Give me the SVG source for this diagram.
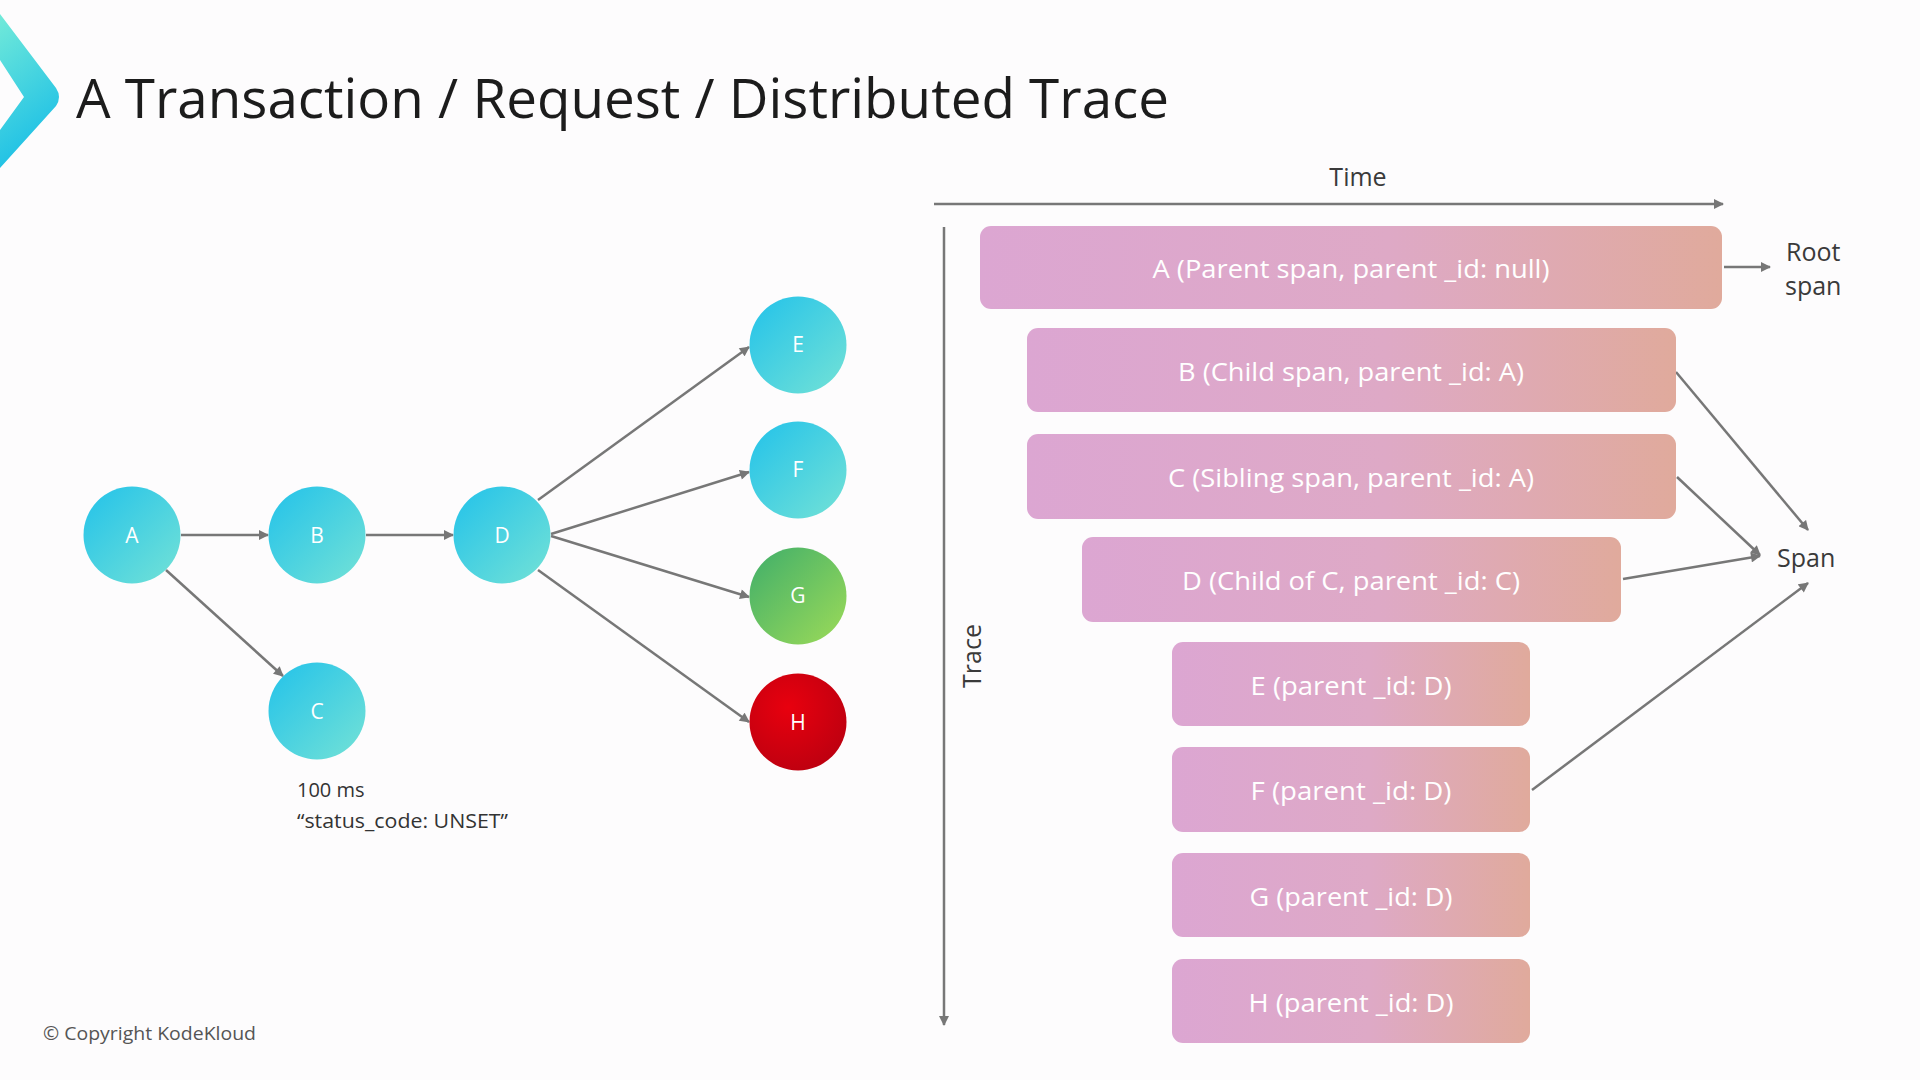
<svg xmlns="http://www.w3.org/2000/svg" width="1920" height="1080" viewBox="0 0 1920 1080">
<defs>
<style>
.title{font-family:"Open Sans","Liberation Sans",sans-serif;font-size:54px;fill:#1c1c1c}
.nlabel{font-family:"Open Sans","Liberation Sans",sans-serif;font-size:21px;fill:#ffffff;text-anchor:middle}
.blabel{font-family:"Open Sans","Liberation Sans",sans-serif;font-size:25px;fill:#ffffff;text-anchor:middle}
.axis{font-family:"Open Sans","Liberation Sans",sans-serif;font-size:25px;fill:#3a3a3a}
.note{font-family:"Open Sans","Liberation Sans",sans-serif;font-size:20px;fill:#333333}
.copy{font-family:"Open Sans","Liberation Sans",sans-serif;font-size:19px;fill:#555555}
.edge{stroke:#777777;stroke-width:2.5;fill:none;marker-end:url(#arr)}
.axisline{stroke:#777777;stroke-width:2.5;fill:none;marker-end:url(#arr)}
.bar{fill:url(#barGrad)}
</style>
<marker id="arr" viewBox="0 0 10 10" refX="9" refY="5" markerWidth="11" markerHeight="10" markerUnits="userSpaceOnUse" orient="auto">
<path d="M0,0 L10,5 L0,10 z" fill="#777777"/>
</marker>
<linearGradient id="logoGrad" x1="0" y1="0" x2="0.3" y2="1">
<stop offset="0" stop-color="#72ead9"/>
<stop offset="1" stop-color="#1cbfe6"/>
</linearGradient>
<linearGradient id="cyanGrad" x1="0" y1="0" x2="1" y2="1">
<stop offset="0" stop-color="#22c2ea"/>
<stop offset="1" stop-color="#74e2d6"/>
</linearGradient>
<linearGradient id="greenGrad" x1="0" y1="0" x2="1" y2="1">
<stop offset="0" stop-color="#3fae6a"/>
<stop offset="1" stop-color="#9ddb58"/>
</linearGradient>
<radialGradient id="redGrad" cx="0.4" cy="0.35" r="0.7">
<stop offset="0" stop-color="#e8000e"/>
<stop offset="1" stop-color="#bd0010"/>
</radialGradient>
<linearGradient id="barGrad" x1="0" y1="0" x2="1" y2="0">
<stop offset="0" stop-color="#dca6d2"/>
<stop offset="0.55" stop-color="#dea9c6"/>
<stop offset="1" stop-color="#e0aa9c"/>
</linearGradient>
</defs>
<rect x="0" y="0" width="1920" height="1080" fill="#fdfcfd"/>

<g id="logo">
<path d="M0,14 L56,88 Q62,97 56,106 L0,168 L0,130 L24,97 L0,60 Z" fill="url(#logoGrad)"/>
</g>
<text class="title" x="76" y="118" textLength="1093" lengthAdjust="spacingAndGlyphs">A Transaction / Request / Distributed Trace</text>

<g id="connectors">
<line class="edge" x1="181" y1="535" x2="268" y2="535"/>
<line class="edge" x1="366" y1="535" x2="453" y2="535"/>
<line class="edge" x1="166" y1="570" x2="283" y2="676"/>
<line class="edge" x1="538" y1="500" x2="749" y2="347"/>
<line class="edge" x1="551" y1="534" x2="749" y2="472"/>
<line class="edge" x1="551" y1="536" x2="749" y2="597"/>
<line class="edge" x1="538" y1="570" x2="749" y2="722"/>
<line class="axisline" x1="934" y1="204" x2="1723" y2="204"/>
<line class="axisline" x1="944" y1="227" x2="944" y2="1025"/>
<line class="edge" x1="1724" y1="267" x2="1770" y2="267"/>
<line class="edge" x1="1676" y1="372" x2="1808" y2="530"/>
<line class="edge" x1="1677" y1="477" x2="1760" y2="555"/>
<line class="edge" x1="1623" y1="579" x2="1760" y2="556"/>
<line class="edge" x1="1532" y1="790" x2="1808" y2="583"/>
</g>

<g id="node-A"><circle cx="132" cy="535" r="48.5" fill="url(#cyanGrad)"/><text class="nlabel" x="132" y="543">A</text></g>
<g id="node-B"><circle cx="317" cy="535" r="48.5" fill="url(#cyanGrad)"/><text class="nlabel" x="317" y="543">B</text></g>
<g id="node-C"><circle cx="317" cy="711" r="48.5" fill="url(#cyanGrad)"/><text class="nlabel" x="317" y="719">C</text></g>
<g id="node-D"><circle cx="502" cy="535" r="48.5" fill="url(#cyanGrad)"/><text class="nlabel" x="502" y="543">D</text></g>
<g id="node-E"><circle cx="798" cy="345" r="48.5" fill="url(#cyanGrad)"/><text class="nlabel" x="798" y="352">E</text></g>
<g id="node-F"><circle cx="798" cy="470" r="48.5" fill="url(#cyanGrad)"/><text class="nlabel" x="798" y="477">F</text></g>
<g id="node-G"><circle cx="798" cy="596" r="48.5" fill="url(#greenGrad)"/><text class="nlabel" x="798" y="603">G</text></g>
<g id="node-H"><circle cx="798" cy="722" r="48.5" fill="url(#redGrad)"/><text class="nlabel" x="798" y="730">H</text></g>

<g id="note-C">
<text class="note" x="297" y="797">100 ms</text>
<text class="note" x="297" y="828" textLength="211" lengthAdjust="spacingAndGlyphs">“status_code: UNSET”</text>
</g>

<text class="axis" x="1358" y="186" text-anchor="middle">Time</text>
<text class="axis" x="0" y="0" text-anchor="middle" transform="translate(981,656) rotate(-90)">Trace</text>

<g id="span-A"><rect class="bar" x="980" y="226" width="742" height="83" rx="11"/><text class="blabel" x="1351" y="278" textLength="397" lengthAdjust="spacingAndGlyphs">A (Parent span, parent _id: null)</text></g>
<g id="span-B"><rect class="bar" x="1027" y="328" width="649" height="84" rx="11"/><text class="blabel" x="1351" y="381" textLength="346" lengthAdjust="spacingAndGlyphs">B (Child span, parent _id: A)</text></g>
<g id="span-C"><rect class="bar" x="1027" y="434" width="649" height="85" rx="11"/><text class="blabel" x="1351" y="487" textLength="366" lengthAdjust="spacingAndGlyphs">C (Sibling span, parent _id: A)</text></g>
<g id="span-D"><rect class="bar" x="1082" y="537" width="539" height="85" rx="11"/><text class="blabel" x="1351" y="590" textLength="338" lengthAdjust="spacingAndGlyphs">D (Child of C, parent _id: C)</text></g>
<g id="span-E"><rect class="bar" x="1172" y="642" width="358" height="84" rx="11"/><text class="blabel" x="1351" y="695" textLength="201" lengthAdjust="spacingAndGlyphs">E (parent _id: D)</text></g>
<g id="span-F"><rect class="bar" x="1172" y="747" width="358" height="85" rx="11"/><text class="blabel" x="1351" y="800" textLength="201" lengthAdjust="spacingAndGlyphs">F (parent _id: D)</text></g>
<g id="span-G"><rect class="bar" x="1172" y="853" width="358" height="84" rx="11"/><text class="blabel" x="1351" y="906" textLength="203" lengthAdjust="spacingAndGlyphs">G (parent _id: D)</text></g>
<g id="span-H"><rect class="bar" x="1172" y="959" width="358" height="84" rx="11"/><text class="blabel" x="1351" y="1012" textLength="205" lengthAdjust="spacingAndGlyphs">H (parent _id: D)</text></g>

<g id="label-root"><text class="axis" x="1786" y="261">Root</text><text class="axis" x="1785" y="295">span</text></g>
<g id="label-span"><text class="axis" x="1777" y="567">Span</text></g>

<text class="copy" x="43" y="1040" textLength="213" lengthAdjust="spacingAndGlyphs">© Copyright KodeKloud</text>
</svg>
